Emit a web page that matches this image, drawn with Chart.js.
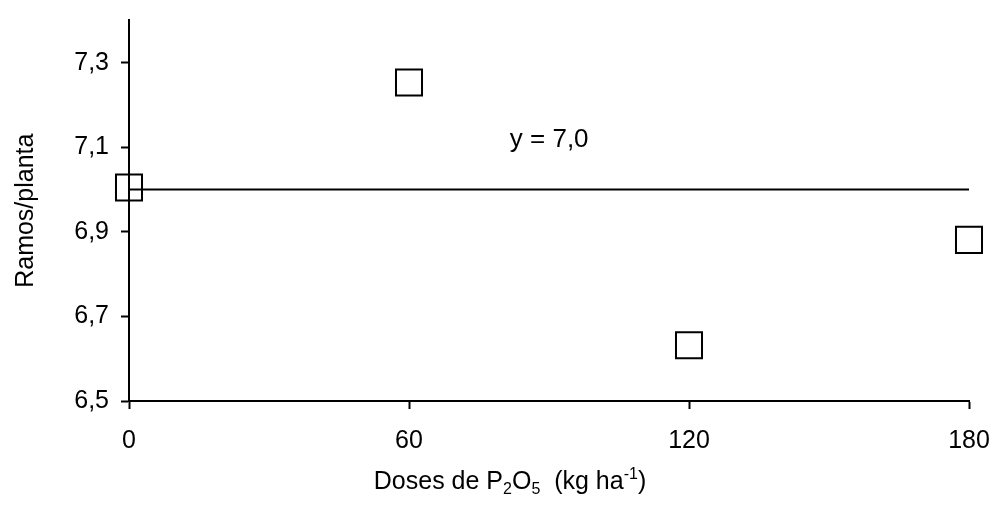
<!DOCTYPE html>
<html>
<head>
<meta charset="utf-8">
<script src="https://cdn.jsdelivr.net/npm/chart.js@4.4.0/dist/chart.umd.min.js"></script>
<style>
  html, body { margin: 0; padding: 0; background: #fff; }
  #wrap { width: 992px; height: 518px; }
</style>
</head>
<body>
<div id="wrap"><canvas id="c" width="992" height="518"></canvas></div>
<script>
// Doses of P2O5 (kg/ha) and mean number of branches per plant
const doses = [0, 60, 120, 180];
const ramosPlanta = [7.005, 7.253, 6.632, 6.881];

// Fitted model: constant mean
const fitValue = 7.0;
const fitRange = [0, 180];
const fitLabel = 'y = 7,0';

// Axis ticks and titles
const xTicks = [0, 60, 120, 180];
const yTicks = [6.5, 6.7, 6.9, 7.1, 7.3];
const yTitle = 'Ramos/planta';
const xTitleParts = [
  ['Doses de P', 'n'], ['2', 'sub'], ['O', 'n'], ['5', 'sub'],
  ['  (kg ha', 'n'], ['-1', 'sup'], [')', 'n']
];

const FONT = '"Liberation Sans", Arial, sans-serif';
const tickFont = { family: FONT, size: 25 };

// keep the plot area where the layout padding puts it
function noScalePadding(s) {
  s.paddingTop = 0; s.paddingBottom = 0; s.paddingLeft = 0; s.paddingRight = 0;
}

// Axis titles and equation label drawn on top of the chart
const textPlugin = {
  id: 'texts',
  afterDraw(chart) {
    const ctx = chart.ctx;
    const xs = chart.scales.x, ys = chart.scales.y;
    const area = chart.chartArea;
    ctx.save();
    ctx.fillStyle = '#000';

    // equation
    ctx.font = '26px ' + FONT;
    ctx.textAlign = 'left';
    ctx.textBaseline = 'alphabetic';
    ctx.fillText(fitLabel, xs.getPixelForValue(81.6), ys.getPixelForValue(7.1));

    // y title
    ctx.font = '25px ' + FONT;
    ctx.save();
    ctx.translate(33, (area.top + area.bottom) / 2);
    ctx.rotate(-Math.PI / 2);
    ctx.textAlign = 'center';
    ctx.fillText(yTitle, 0, 0);
    ctx.restore();

    // x title with sub/superscripts
    const base = 25, small = 16;
    let total = 0;
    for (const [t, k] of xTitleParts) {
      ctx.font = (k === 'n' ? base : small) + 'px ' + FONT;
      total += ctx.measureText(t).width;
    }
    let x = 510 - total / 2;
    const y = 489;
    ctx.textAlign = 'left';
    for (const [t, k] of xTitleParts) {
      ctx.font = (k === 'n' ? base : small) + 'px ' + FONT;
      const dy = k === 'sub' ? 5 : (k === 'sup' ? -10 : 0);
      ctx.fillText(t, x, y + dy);
      x += ctx.measureText(t).width;
    }
    ctx.restore();
  }
};

new Chart(document.getElementById('c'), {
  data: {
    datasets: [
      {
        type: 'line',
        data: fitRange.map(v => ({ x: v, y: fitValue })),
        borderColor: '#000',
        borderWidth: 2,
        pointRadius: 0,
        fill: false,
        order: 2
      },
      {
        type: 'scatter',
        data: doses.map((d, i) => ({ x: d, y: ramosPlanta[i] })),
        pointStyle: 'rect',
        pointRadius: 18.4,
        pointHoverRadius: 18.4,
        borderColor: '#000',
        borderWidth: 2,
        backgroundColor: 'rgba(0,0,0,0)',
        clip: false,
        order: 1
      }
    ]
  },
  options: {
    responsive: false,
    animation: false,
    devicePixelRatio: 1,
    layout: { padding: { top: 17, right: 23, left: 0, bottom: 0 } },
    plugins: { legend: { display: false }, tooltip: { enabled: false } },
    scales: {
      x: {
        type: 'linear',
        min: 0, max: 180,
        afterBuildTicks: s => { s.ticks = xTicks.map(v => ({ value: v })); },
        afterFit: s => { s.height = 117; noScalePadding(s); },
        ticks: { font: tickFont, color: '#000', padding: 17, maxRotation: 0, autoSkip: false },
        grid: { drawOnChartArea: false, drawTicks: true, tickLength: 8, tickColor: '#000', tickWidth: 2, color: '#000' },
        border: { color: '#000', width: 2 }
      },
      y: {
        type: 'linear',
        min: 6.5, max: 7.4,
        afterBuildTicks: s => { s.ticks = yTicks.map(v => ({ value: v })); },
        afterFit: s => { s.width = 129; noScalePadding(s); },
        ticks: {
          font: tickFont, color: '#000', padding: 12, autoSkip: false,
          callback: v => v.toFixed(1).replace('.', ',')
        },
        grid: { drawOnChartArea: false, drawTicks: true, tickLength: 8, tickColor: '#000', tickWidth: 2, color: '#000' },
        border: { color: '#000', width: 2 }
      }
    }
  },
  plugins: [textPlugin]
});
</script>
</body>
</html>
